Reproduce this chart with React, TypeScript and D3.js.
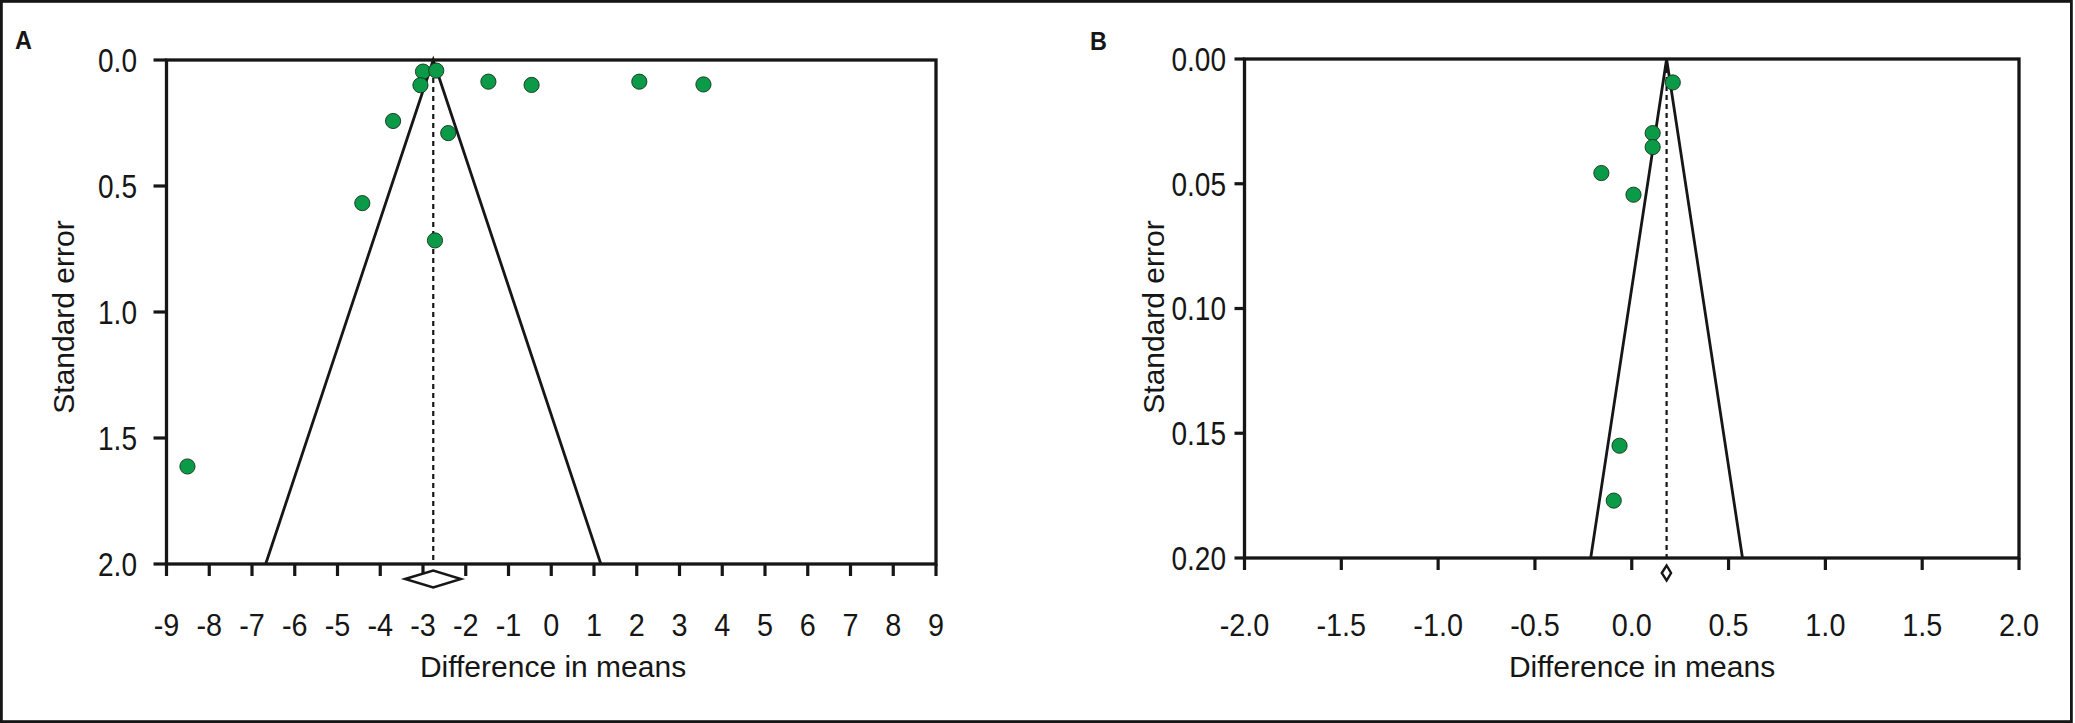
import React, { useEffect, useRef } from 'react'
import * as d3 from 'd3'

const W = 2075, H = 723

// panel A: difference in means vs standard error
const aDiff = [-3.0, -2.69, -3.06, -1.47, -0.46, 2.06, 3.56, -3.70, -2.41, -4.42, -2.72, -8.51]
const aSE = [0.046, 0.042, 0.10, 0.086, 0.099, 0.086, 0.097, 0.242, 0.29, 0.568, 0.716, 1.613]
const aMean = -2.76
const aCI = [-3.42, -2.11]
const aXTicks = [-9, -8, -7, -6, -5, -4, -3, -2, -1, 0, 1, 2, 3, 4, 5, 6, 7, 8, 9]
const aYTicks = [0, 0.5, 1.0, 1.5, 2.0]

// panel B
const bDiff = [0.212, 0.108, 0.108, -0.157, 0.009, -0.063, -0.093]
const bSE = [0.0094, 0.0297, 0.0353, 0.0457, 0.0544, 0.155, 0.177]
const bMean = 0.18
const bCI = [0.155, 0.203]
const bXTicks = [-2.0, -1.5, -1.0, -0.5, 0.0, 0.5, 1.0, 1.5, 2.0]
const bYTicks = [0, 0.05, 0.10, 0.15, 0.20]

const sans = "'Liberation Sans', Arial, sans-serif"
const ink = '#161616'
const green = '#0b9a48'
// arial squeezed to look like the condensed tick font
const xSqueeze = 0.9
const ySqueeze = 0.85

// plain hyphen minus, like the original figure
const fmt = digits => d => d.toFixed(digits)

const panels = [
  {
    name: 'A', diff: aDiff, se: aSE, mean: aMean, ci: aCI, xTicks: aXTicks, yTicks: aYTicks,
    xFmt: fmt(0), yFmt: fmt(1),
    left: 166.5, right: 936, top: 60, bottom: 564, yTick: 13, yLabelX: 137,
    labelX: 15, labelY: 49, titleX: 553, yTitleX: 74, diamondH: 8.5
  },
  {
    name: 'B', diff: bDiff, se: bSE, mean: bMean, ci: bCI, xTicks: bXTicks, yTicks: bYTicks,
    xFmt: fmt(1), yFmt: fmt(2),
    left: 1244.5, right: 2019, top: 59, bottom: 558, yTick: 10, yLabelX: 1226,
    labelX: 1090, labelY: 50, titleX: 1642, yTitleX: 1164, diamondH: 7.5
  }
]

function drawPanel(svg, p) {
  const x = d3.scaleLinear([p.xTicks[0], p.xTicks[p.xTicks.length - 1]], [p.left, p.right])
  const y = d3.scaleLinear([p.yTicks[0], p.yTicks[p.yTicks.length - 1]], [p.top, p.bottom])
  const seMax = y.domain()[1]
  const g = svg.append('g')

  // funnel
  const funnel = d3.line().x(d => x(d[0])).y(d => y(d[1]))
  g.append('path')
    .attr('d', funnel([[p.mean - 1.96 * seMax, seMax], [p.mean, 0], [p.mean + 1.96 * seMax, seMax]]))
    .attr('fill', 'none').attr('stroke', ink).attr('stroke-width', 2.8)

  // mean line
  g.append('line')
    .attr('x1', x(p.mean)).attr('x2', x(p.mean))
    .attr('y1', y(0)).attr('y2', y(seMax))
    .attr('stroke', ink).attr('stroke-width', 2.2).attr('stroke-dasharray', '5,4')

  // frame
  g.append('rect')
    .attr('x', p.left).attr('y', p.top)
    .attr('width', p.right - p.left).attr('height', p.bottom - p.top)
    .attr('fill', 'none').attr('stroke', ink).attr('stroke-width', 3.3)

  // y ticks
  const yt = g.append('g')
  yt.selectAll('line').data(p.yTicks).join('line')
    .attr('x1', p.left - p.yTick).attr('x2', p.left)
    .attr('y1', d => y(d)).attr('y2', d => y(d))
    .attr('stroke', ink).attr('stroke-width', 3.2)
  yt.selectAll('text').data(p.yTicks).join('text')
    .attr('transform', d => `translate(${p.yLabelX},${y(d)}) scale(${ySqueeze},1)`)
    .attr('dy', '0.36em')
    .attr('text-anchor', 'end')
    .attr('font-family', sans).attr('font-size', 33).attr('fill', ink)
    .text(d => p.yFmt(d))

  // x ticks
  const xt = g.append('g')
  xt.selectAll('line').data(p.xTicks).join('line')
    .attr('x1', d => x(d)).attr('x2', d => x(d))
    .attr('y1', p.bottom).attr('y2', p.bottom + 12)
    .attr('stroke', ink).attr('stroke-width', 3.2)
  xt.selectAll('text').data(p.xTicks).join('text')
    .attr('transform', d => `translate(${x(d)},636) scale(${xSqueeze},1)`)
    .attr('text-anchor', 'middle')
    .attr('font-family', sans).attr('font-size', 32).attr('fill', ink)
    .text(d => p.xFmt(d))

  // summary diamond
  const yc = p.bottom + 15
  const dpts = [[x(p.ci[0]), yc], [x(p.mean), yc - p.diamondH], [x(p.ci[1]), yc], [x(p.mean), yc + p.diamondH]]
  g.append('polygon')
    .attr('points', dpts.map(d => d.join(',')).join(' '))
    .attr('fill', '#fff').attr('stroke', ink).attr('stroke-width', 2.4)

  // studies
  g.append('g').selectAll('circle').data(p.diff.map((d, i) => [d, p.se[i]])).join('circle')
    .attr('cx', d => x(d[0])).attr('cy', d => y(d[1])).attr('r', 7.6)
    .attr('fill', green).attr('stroke', '#14321c').attr('stroke-width', 0.9)

  // titles
  g.append('text')
    .attr('transform', `translate(${p.labelX},${p.labelY}) scale(0.9,1)`)
    .attr('font-family', sans).attr('font-weight', 'bold').attr('font-size', 26).attr('fill', ink)
    .text(p.name)
  g.append('text')
    .attr('x', p.titleX).attr('y', 677).attr('text-anchor', 'middle')
    .attr('font-family', sans).attr('font-size', 30).attr('fill', ink)
    .text('Difference in means')
  g.append('text')
    .attr('transform', `translate(${p.yTitleX},317) rotate(-90)`)
    .attr('text-anchor', 'middle')
    .attr('font-family', sans).attr('font-size', 30).attr('fill', ink)
    .text('Standard error')
}

export default function App() {
  const ref = useRef(null)

  useEffect(() => {
    const svg = d3.select(ref.current)
    svg.selectAll('*').remove()
    svg.append('rect').attr('width', W).attr('height', H).attr('fill', '#fff')
    svg.append('rect')
      .attr('x', 1.4).attr('y', 1.4).attr('width', 2070).attr('height', 720.2)
      .attr('fill', 'none').attr('stroke', ink).attr('stroke-width', 2.8)
    panels.forEach(p => drawPanel(svg, p))
  }, [])

  return (
    <svg ref={ref} width={W} height={H}
      style={{ position: 'absolute', left: 0, top: 0, display: 'block' }} />
  )
}
